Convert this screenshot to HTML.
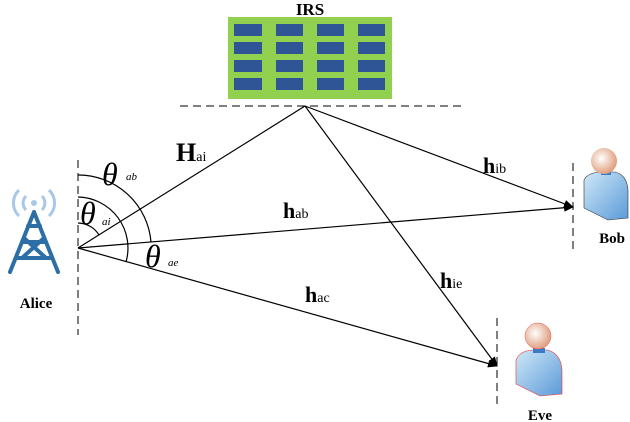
<!DOCTYPE html>
<html><head><style>body{margin:0;background:#fff}svg{display:block}</style></head><body>
<svg width="630" height="422" viewBox="0 0 630 422" xmlns="http://www.w3.org/2000/svg" font-family="Liberation Serif, serif">
<defs>
<marker id="ar" markerWidth="10" markerHeight="8" refX="9" refY="4" orient="auto" markerUnits="userSpaceOnUse"><path d="M0,0 L10,4 L0,8 z" fill="#000"/></marker>
<radialGradient id="hd" cx="0.4" cy="0.4" r="0.6"><stop offset="0" stop-color="#fff"/><stop offset="1" stop-color="#e0a080"/></radialGradient>
<linearGradient id="bd" x1="0" y1="0" x2="1" y2="1"><stop offset="0" stop-color="#d0e8f8"/><stop offset="1" stop-color="#5a9ad8"/></linearGradient>
</defs>
<text x="310" y="15" text-anchor="middle" font-weight="bold" font-size="17">IRS</text>
<rect x="228" y="17" width="164" height="82" fill="#92d050"/>
<g fill="#2f5597">
<rect x="234" y="24" width="28" height="12"/><rect x="276" y="24" width="27" height="12"/><rect x="317" y="24" width="27" height="12"/><rect x="358" y="24" width="27" height="12"/>
<rect x="234" y="42" width="28" height="12"/><rect x="276" y="42" width="27" height="12"/><rect x="317" y="42" width="27" height="12"/><rect x="358" y="42" width="27" height="12"/>
<rect x="234" y="60" width="28" height="12"/><rect x="276" y="60" width="27" height="12"/><rect x="317" y="60" width="27" height="12"/><rect x="358" y="60" width="27" height="12"/>
<rect x="234" y="78" width="28" height="12"/><rect x="276" y="78" width="27" height="12"/><rect x="317" y="78" width="27" height="12"/><rect x="358" y="78" width="27" height="12"/>
</g>
<g stroke="#000" stroke-width="1" stroke-dasharray="8,5" fill="none">
<line x1="180" y1="106" x2="462" y2="106"/>
<line x1="78" y1="160" x2="78" y2="335"/>
<line x1="573" y1="163" x2="573" y2="254"/>
<line x1="497" y1="318" x2="497" y2="408"/>
</g>
<g stroke="#000" stroke-width="1.2" fill="none">
<line x1="78" y1="248" x2="305" y2="106"/>
<line x1="78" y1="248" x2="573" y2="207" marker-end="url(#ar)"/>
<line x1="78" y1="248" x2="497" y2="366" marker-end="url(#ar)"/>
<line x1="305" y1="106" x2="573" y2="207" marker-end="url(#ar)"/>
<line x1="305" y1="106" x2="497" y2="366" marker-end="url(#ar)"/>
<path d="M78,175 A73,73 0 0 1 151,242"/>
<path d="M78,197 A51,51 0 0 1 126,262"/>
<path d="M78,223 A25,25 0 0 1 99,235"/>
</g>
<g font-style="italic" font-size="32">
<text x="102" y="185">θ</text><text x="80" y="224">θ</text><text x="145" y="267">θ</text>
</g>
<g font-style="italic" font-size="11">
<text x="126" y="180">ab</text><text x="102" y="225">ai</text><text x="168" y="266">ae</text>
</g>
<g font-size="14">
<text x="176" y="161"><tspan font-weight="bold" font-size="26">H</tspan>ai</text>
<text x="283" y="218"><tspan font-weight="bold" font-size="22">h</tspan>ab</text>
<text x="305" y="302"><tspan font-weight="bold" font-size="22">h</tspan>ac</text>
<text x="440" y="288"><tspan font-weight="bold" font-size="22">h</tspan>ie</text>
<text x="483" y="173"><tspan font-weight="bold" font-size="22">h</tspan>ib</text>
</g>
<g font-weight="bold" font-size="15" text-anchor="middle">
<text x="36" y="308">Alice</text><text x="612" y="243">Bob</text><text x="540" y="420">Eve</text>
</g>
<g stroke="#2e6ea6" stroke-width="4" fill="none" stroke-linecap="round">
<path d="M34,212 L10,272 M34,212 L58,272 M22,242 L46,242 M16,258 L52,258 M24,238 L46,258 M44,238 L22,258 M28,226 L40,226"/>
</g>
<g stroke="#a8c8e8" stroke-width="3" fill="none">
<circle cx="34" cy="203" r="3" fill="#a8c8e8" stroke="none"/>
<path d="M26,196 A10,10 0 0 0 26,210 M42,196 A10,10 0 0 1 42,210"/>
<path d="M19,190 A18,18 0 0 0 19,216 M49,190 A18,18 0 0 1 49,216"/>
</g>
<g>
<path d="M584,180 Q588,172 603,172 L615,172 Q627,175 628,190 L628,218 L608,220 L584,208 Z" fill="url(#bd)" stroke="#333" stroke-width="0.6"/>
<rect x="601" y="170" width="10" height="5" fill="#3a7ac8"/>
<circle cx="604" cy="161" r="13" fill="url(#hd)"/>
</g>
<g>
<path d="M516,360 Q520,350 535,350 L548,350 Q561,354 562,370 L562,394 L540,396 L516,384 Z" fill="url(#bd)" stroke="#e33" stroke-width="0.6"/>
<rect x="533" y="348" width="12" height="5" fill="#3a7ac8"/>
<circle cx="538" cy="336" r="13" fill="url(#hd)" stroke="#e55" stroke-width="0.5"/>
</g>
</svg>
</body></html>
